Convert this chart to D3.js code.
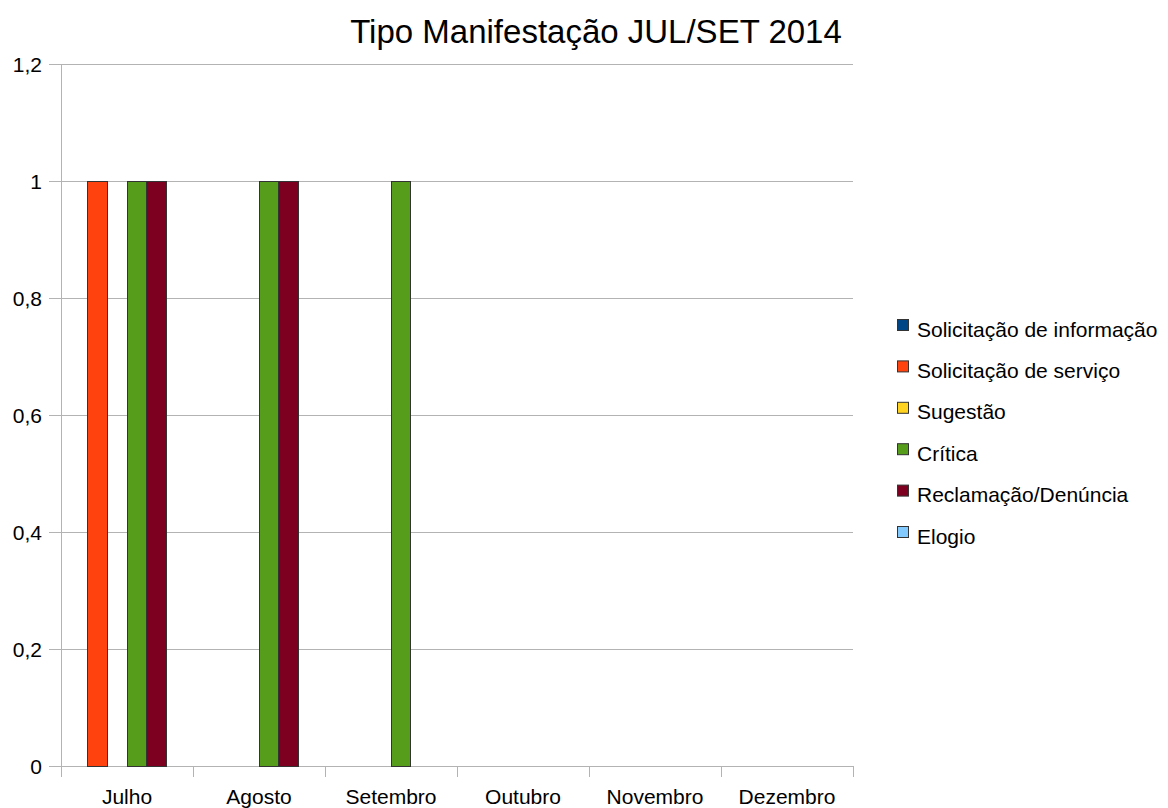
<!DOCTYPE html>
<html>
<head>
<meta charset="utf-8">
<script src="https://cdn.jsdelivr.net/npm/d3@7"></script>
<style>
	body { margin: 0; background: #fff; }
	text { font-family: "Liberation Sans", Arial, sans-serif; fill: #000; }
</style>
</head>
<body>
<svg id="chart" width="1168" height="808"></svg>
<script>
// chart data
const months = ["Julho", "Agosto", "Setembro", "Outubro", "Novembro", "Dezembro"];
const seriesNames = ["Solicitação de informação", "Solicitação de serviço", "Sugestão", "Crítica", "Reclamação/Denúncia", "Elogio"];
const seriesColors = ["#004586", "#ff420e", "#ffd320", "#579d1c", "#7e0021", "#83caff"];
// one row per series, one value per month
const values = [
	[0, 0, 0, 0, 0, 0],
	[1, 0, 0, 0, 0, 0],
	[0, 0, 0, 0, 0, 0],
	[1, 1, 1, 0, 0, 0],
	[1, 1, 0, 0, 0, 0],
	[0, 0, 0, 0, 0, 0]
];
const yTicks = [0, 0.2, 0.4, 0.6, 0.8, 1, 1.2];

let svg = d3.select("#chart");
let plotLeft = 61, plotRight = 853, plotTop = 64, plotBottom = 766;

let x = d3.scaleBand().domain(months).range([plotLeft, plotRight]);
let xs = d3.scaleBand().domain(seriesNames).range([0, x.bandwidth()]).paddingOuter(0.34);
let y = d3.scaleLinear().domain([0, 1.2]).range([plotBottom, plotTop]);

// title
svg.append("text")
	.attr("x", 596).attr("y", 43)
	.attr("text-anchor", "middle")
	.attr("font-size", 33)
	.text("Tipo Manifestação JUL/SET 2014");

// gridlines
svg.append("g").selectAll("line")
	.data(yTicks)
	.enter().append("line")
	.attr("x1", plotLeft - 12).attr("x2", plotRight)
	.attr("y1", d => y(d)).attr("y2", d => y(d))
	.attr("stroke", "#b3b3b3").attr("stroke-width", 1)
	.attr("shape-rendering", "crispEdges");

// y labels
svg.append("g").selectAll("text")
	.data(yTicks)
	.enter().append("text")
	.attr("x", 42).attr("y", d => y(d) + 7.5)
	.attr("text-anchor", "end")
	.attr("font-size", 21)
	.text(d => d3.format(".1~f")(d).replace(".", ","));

// y axis line
svg.append("line")
	.attr("x1", plotLeft).attr("x2", plotLeft)
	.attr("y1", plotTop).attr("y2", plotBottom + 11)
	.attr("stroke", "#b3b3b3")
	.attr("shape-rendering", "crispEdges");

// x ticks at category boundaries
let bounds = months.map(m => x(m)).concat([plotRight]);
svg.append("g").selectAll("line")
	.data(bounds.slice(1))
	.enter().append("line")
	.attr("x1", d => d).attr("x2", d => d)
	.attr("y1", plotBottom).attr("y2", plotBottom + 11)
	.attr("stroke", "#b3b3b3")
	.attr("shape-rendering", "crispEdges");

// bars
let groups = svg.append("g").selectAll("g")
	.data(seriesNames)
	.enter().append("g")
	.attr("fill", (d, i) => seriesColors[i]);
groups.selectAll("rect")
	.data((s, i) => values[i].map((v, j) => ({ s: s, m: months[j], v: v })).filter(d => d.v > 0))
	.enter().append("rect")
	.attr("x", d => x(d.m) + xs(d.s))
	.attr("width", xs.bandwidth())
	.attr("y", d => y(d.v))
	.attr("height", d => y(0) - y(d.v))
	.attr("stroke", "#333")
	.attr("stroke-width", 1)
	.attr("shape-rendering", "crispEdges");

// x labels
svg.append("g").selectAll("text")
	.data(months)
	.enter().append("text")
	.attr("x", d => x(d) + x.bandwidth() / 2)
	.attr("y", 804)
	.attr("text-anchor", "middle")
	.attr("font-size", 21)
	.text(d => d);

// legend
let legend = svg.append("g").selectAll("g")
	.data(seriesNames)
	.enter().append("g")
	.attr("transform", (d, i) => "translate(897," + (329 + i * 41.4) + ")");
legend.append("rect")
	.attr("x", 0.5).attr("y", -9.5)
	.attr("width", 11).attr("height", 11)
	.attr("fill", (d, i) => seriesColors[i])
	.attr("stroke", "#333");
legend.append("text")
	.attr("x", 20).attr("y", 7.5)
	.attr("font-size", 21)
	.text(d => d);
</script>
</body>
</html>
